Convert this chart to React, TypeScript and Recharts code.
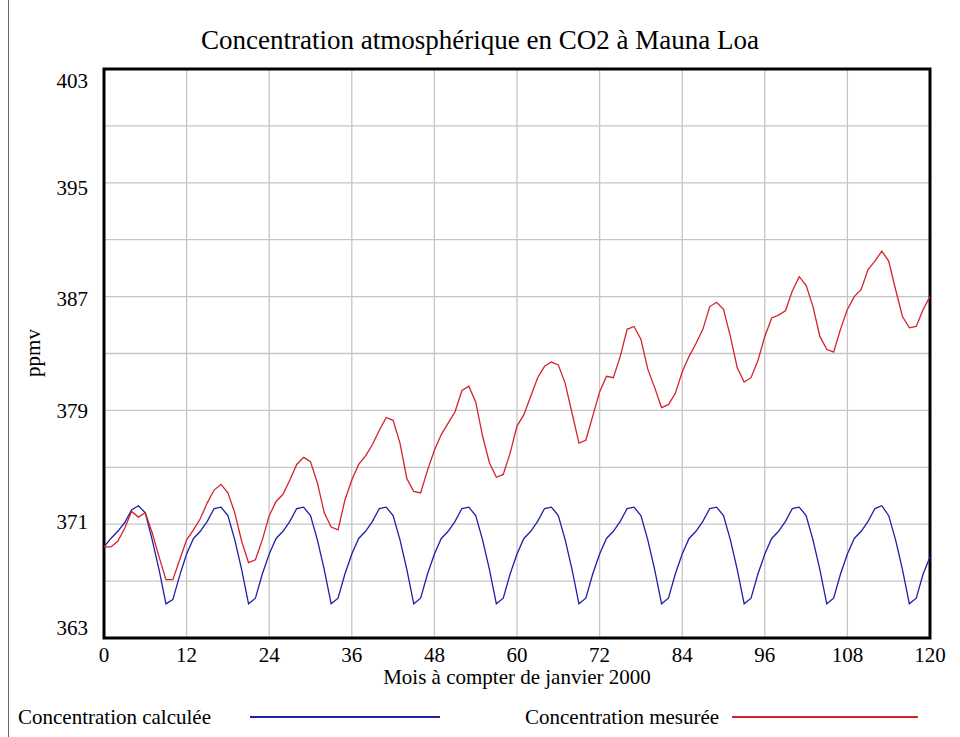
import { LineChart, Line, XAxis, YAxis, CartesianGrid, ReferenceArea } from 'recharts';

// Concentration calculée (ppmv), one row per year, month 0..120
const calculee: number[] = [
  369.4, 370.0, 370.5, 371.1, 372.0, 372.3, 371.8, 369.9, 367.8, 365.4, 365.7, 367.4,
  368.9, 370.0, 370.5, 371.2, 372.1, 372.2, 371.6, 369.9, 367.8, 365.4, 365.8, 367.5,
  368.9, 370.0, 370.5, 371.2, 372.1, 372.2, 371.6, 369.9, 367.8, 365.4, 365.8, 367.5,
  368.9, 370.0, 370.5, 371.2, 372.1, 372.2, 371.6, 369.9, 367.8, 365.4, 365.8, 367.5,
  368.9, 370.0, 370.5, 371.2, 372.1, 372.2, 371.6, 369.9, 367.8, 365.4, 365.8, 367.5,
  368.9, 370.0, 370.5, 371.2, 372.1, 372.2, 371.6, 369.9, 367.8, 365.4, 365.8, 367.5,
  368.9, 370.0, 370.5, 371.2, 372.1, 372.2, 371.6, 369.9, 367.8, 365.4, 365.8, 367.5,
  368.9, 370.0, 370.5, 371.2, 372.1, 372.2, 371.6, 369.9, 367.8, 365.4, 365.8, 367.5,
  368.9, 370.0, 370.5, 371.2, 372.1, 372.2, 371.6, 369.9, 367.8, 365.4, 365.8, 367.5,
  368.9, 370.0, 370.5, 371.2, 372.1, 372.3, 371.6, 369.9, 367.8, 365.4, 365.8, 367.5,
  368.7,
];

// Concentration mesurée (ppmv)
const mesuree: number[] = [
  369.4, 369.4, 369.8, 370.7, 371.9, 371.5, 371.8, 370.4, 368.7, 367.1, 367.1, 368.5,
  369.9, 370.6, 371.4, 372.5, 373.4, 373.8, 373.2, 371.8, 369.8, 368.3, 368.5, 369.9,
  371.6, 372.6, 373.1, 374.1, 375.2, 375.7, 375.4, 373.9, 371.8, 370.8, 370.6, 372.7,
  374.1, 375.2, 375.8, 376.6, 377.6, 378.5, 378.3, 376.7, 374.2, 373.3, 373.2, 374.8,
  376.2, 377.3, 378.1, 378.9, 380.4, 380.7, 379.6, 377.2, 375.3, 374.3, 374.5, 376.0,
  377.9, 378.7, 380.0, 381.3, 382.1, 382.4, 382.2, 380.9, 378.8, 376.7, 376.9, 378.6,
  380.3, 381.4, 381.3, 382.8, 384.7, 384.9, 384.0, 381.9, 380.6, 379.2, 379.4, 380.2,
  381.7, 382.8, 383.7, 384.7, 386.3, 386.6, 386.1, 384.2, 382.0, 381.0, 381.3, 382.5,
  384.2, 385.5, 385.7, 386.0, 387.4, 388.4, 387.8, 386.3, 384.2, 383.3, 383.1, 384.7,
  386.1, 387.0, 387.5, 388.9, 389.5, 390.2, 389.5, 387.5, 385.6, 384.8, 384.9, 386.1,
  387.0,
];

const xTicks = [0, 12, 24, 36, 48, 60, 72, 84, 96, 108, 120];
const yTicks = [363, 367, 371, 375, 379, 383, 387, 391, 395, 399, 403];
const yLabels = [363, 371, 379, 387, 395, 403];

const data = mesuree.map((m, i) => ({ mois: i, calculee: calculee[i], mesuree: m }));

const FONT = '"Liberation Serif", "Times New Roman", serif';
const BLUE = '#1f1fa8';
const RED = '#d3232c';

function YTick(props: any) {
  const { x, y, payload } = props;
  const v = payload.value;
  if (!yLabels.includes(v)) return null;
  let dy = (v - 379) * 0.3;
  if (v === 403) dy = 12;
  if (v === 363) dy = -10;
  return (
    <text x={x} y={y + dy} dy="0.35em" textAnchor="end" fontFamily={FONT} fontSize={21} fill="#000">
      {v}
    </text>
  );
}

function XTick(props: any) {
  const { x, y, payload } = props;
  return (
    <text x={x} y={y} dy="0.71em" textAnchor="middle" fontFamily={FONT} fontSize={21} fill="#000">
      {payload.value}
    </text>
  );
}

export default function App() {
  return (
    <div style={{ position: 'absolute', left: 0, top: 0, width: 960, height: 737, background: '#fff', fontFamily: FONT }}>
      <div style={{ position: 'absolute', left: 8, top: 0, width: 1, height: 737, background: '#666' }} />
      <div style={{ position: 'absolute', left: 0, width: 960, top: 22, textAlign: 'center', fontSize: 27, lineHeight: '36px' }}>
        Concentration atmosphérique en CO2 à Mauna Loa
      </div>
      <LineChart width={960} height={737} data={data} margin={{ top: 69, right: 30, left: 0, bottom: 0 }}>
        <CartesianGrid stroke="#c6c6c6" strokeWidth={1.3} />
        <XAxis
          dataKey="mois"
          type="number"
          domain={[0, 120]}
          ticks={xTicks}
          height={99}
          tickLine={false}
          axisLine={false}
          tickMargin={3}
          tick={<XTick />}
          interval={0}
        />
        <YAxis
          domain={[363, 403]}
          ticks={yTicks}
          width={104}
          tickLine={false}
          axisLine={false}
          tickMargin={10}
          tick={<YTick />}
          interval={0}
        />
        <Line type="linear" dataKey="calculee" stroke={BLUE} strokeWidth={1.3} dot={false} isAnimationActive={false} />
        <Line type="linear" dataKey="mesuree" stroke={RED} strokeWidth={1.3} dot={false} isAnimationActive={false} />
        <ReferenceArea x1={0} x2={120} y1={363} y2={403} fill="none" stroke="#000" strokeWidth={3} ifOverflow="visible" />
      </LineChart>
      <div style={{ position: 'absolute', left: 104, width: 826, top: 664, textAlign: 'center', fontSize: 21, lineHeight: '26px' }}>
        Mois à compter de janvier 2000
      </div>
      <div
        style={{
          position: 'absolute',
          left: 33,
          top: 353,
          transform: 'translate(-50%, -50%) rotate(-90deg)',
          fontSize: 21,
          lineHeight: '26px',
          whiteSpace: 'nowrap',
        }}
      >
        ppmv
      </div>
      <div style={{ position: 'absolute', left: 18, top: 704, fontSize: 21, lineHeight: '26px', whiteSpace: 'nowrap' }}>
        Concentration calculée
      </div>
      <div style={{ position: 'absolute', left: 250, top: 716, width: 190, height: 1.5, background: BLUE }} />
      <div style={{ position: 'absolute', left: 525, top: 704, fontSize: 21, lineHeight: '26px', whiteSpace: 'nowrap' }}>
        Concentration mesurée
      </div>
      <div style={{ position: 'absolute', left: 732, top: 716, width: 186, height: 1.5, background: RED }} />
    </div>
  );
}
